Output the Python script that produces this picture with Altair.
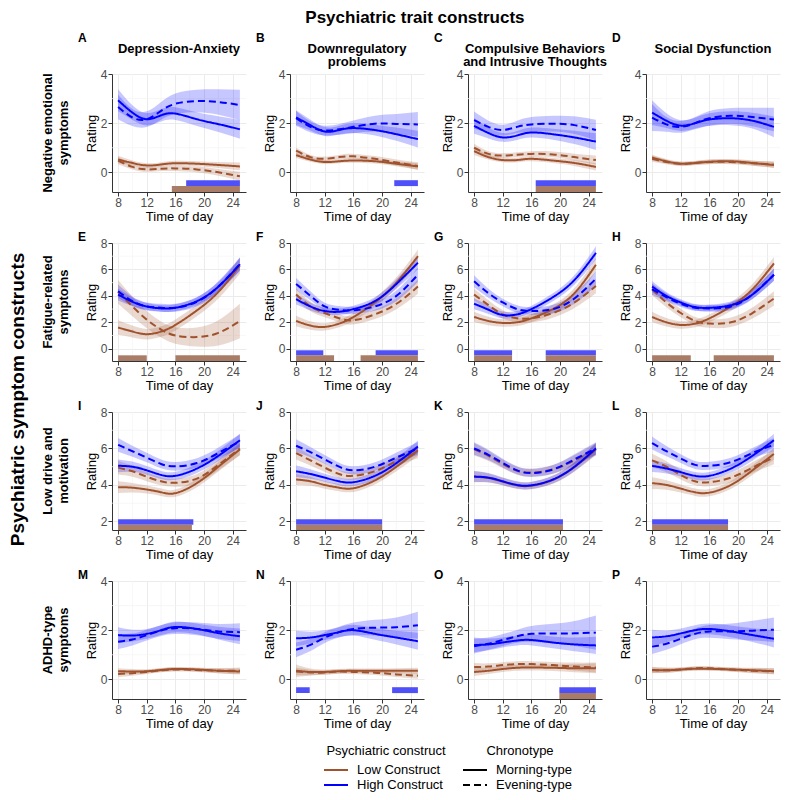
import altair as alt
import pandas as pd

# ---------------- data ----------------
HOURS = [8, 10, 12, 14, 16, 19, 22, 25]
X_TICKS = [8, 12, 16, 20, 24]
X_MINOR = [10, 14, 18, 22]

TRAITS = ["Depression-Anxiety", "Downregulatory\nproblems",
          "Compulsive Behaviors\nand Intrusive Thoughts", "Social Dysfunction"]
SYMPTOMS = ["Negative emotional\nsymptoms", "Fatigue-related\nsymptoms",
            "Low drive and\nmotivation", "ADHD-type\nsymptoms"]
LETTERS = list("ABCDEFGHIJKLMNOP")

CONSTRUCTS = ["Low Construct", "High Construct"]
CHRONOTYPES = ["Morning-type", "Evening-type"]
SERIES = {"LM": ("Low Construct", "Morning-type"), "LE": ("Low Construct", "Evening-type"),
          "HM": ("High Construct", "Morning-type"), "HE": ("High Construct", "Evening-type")}

# mean ratings at HOURS (L/H = low/high construct, M/E = morning/evening type)
A_MEAN = dict(LM=[0.52, 0.38, 0.28, 0.32, 0.37, 0.35, 0.30, 0.24],
              LE=[0.48, 0.22, 0.12, 0.15, 0.16, 0.12, 0.00, -0.16],
              HM=[2.93, 2.43, 2.16, 2.32, 2.39, 2.16, 1.96, 1.75],
              HE=[2.66, 2.23, 2.16, 2.50, 2.79, 2.90, 2.86, 2.74])
B_MEAN = dict(LM=[0.70, 0.52, 0.42, 0.45, 0.48, 0.45, 0.35, 0.24],
              LE=[0.88, 0.62, 0.55, 0.62, 0.65, 0.55, 0.40, 0.26],
              HM=[2.23, 1.92, 1.66, 1.72, 1.80, 1.72, 1.55, 1.35],
              HE=[2.20, 1.85, 1.70, 1.75, 1.85, 1.98, 1.97, 1.95])
C_MEAN = dict(LM=[0.86, 0.62, 0.50, 0.50, 0.55, 0.48, 0.38, 0.22],
              LE=[1.00, 0.75, 0.68, 0.72, 0.75, 0.73, 0.62, 0.50],
              HM=[1.89, 1.60, 1.42, 1.50, 1.62, 1.55, 1.42, 1.25],
              HE=[2.12, 1.85, 1.72, 1.85, 1.95, 1.98, 1.92, 1.72])
D_MEAN = dict(LM=[0.60, 0.45, 0.35, 0.38, 0.43, 0.45, 0.38, 0.30],
              LE=[0.55, 0.42, 0.35, 0.38, 0.42, 0.42, 0.37, 0.32],
              HM=[2.43, 2.10, 1.90, 2.00, 2.15, 2.20, 2.10, 1.85],
              HE=[2.23, 1.95, 1.85, 2.00, 2.20, 2.30, 2.25, 2.15])
E_MEAN = dict(LM=[1.60, 1.30, 1.10, 1.30, 1.80, 2.90, 4.30, 6.30],
              LE=[4.30, 3.20, 2.20, 1.45, 1.00, 0.88, 1.20, 2.10],
              HM=[4.10, 3.55, 3.20, 3.05, 3.10, 3.60, 4.70, 6.40],
              HE=[4.35, 3.60, 3.20, 3.10, 3.10, 3.55, 4.70, 6.40])
F_MEAN = dict(LM=[2.10, 1.75, 1.65, 1.90, 2.40, 3.50, 5.00, 7.00],
              LE=[4.10, 3.20, 2.70, 2.30, 2.15, 2.60, 3.40, 4.70],
              HM=[3.75, 3.20, 2.85, 2.80, 3.00, 3.60, 4.90, 6.50],
              HE=[4.90, 4.00, 3.20, 2.95, 2.90, 3.20, 4.00, 5.60])
G_MEAN = dict(LM=[2.40, 2.10, 1.95, 2.00, 2.30, 3.00, 4.20, 6.35],
              LE=[4.10, 3.30, 2.60, 2.30, 2.30, 2.70, 3.50, 4.75],
              HM=[3.40, 2.95, 2.55, 2.60, 3.00, 3.90, 5.20, 7.25],
              HE=[5.10, 4.20, 3.50, 3.00, 2.85, 3.00, 3.80, 5.30])
H_MEAN = dict(LM=[2.40, 2.00, 1.80, 1.90, 2.30, 3.20, 4.50, 6.45],
              LE=[4.50, 3.50, 2.70, 2.10, 1.90, 2.00, 2.70, 3.80],
              HM=[4.70, 4.00, 3.50, 3.15, 3.10, 3.30, 4.10, 5.60],
              HE=[4.50, 3.90, 3.40, 3.10, 3.05, 3.20, 4.10, 5.60])
I_MEAN = dict(LM=[3.88, 3.85, 3.75, 3.60, 3.55, 4.10, 5.00, 5.95],
              LE=[4.95, 4.75, 4.45, 4.20, 4.12, 4.35, 5.10, 6.00],
              HM=[5.05, 5.00, 4.80, 4.55, 4.50, 4.90, 5.60, 6.45],
              HE=[6.20, 5.85, 5.50, 5.15, 5.02, 5.20, 5.75, 6.40])
J_MEAN = dict(LM=[4.30, 4.20, 4.00, 3.85, 3.82, 4.25, 5.00, 5.90],
              LE=[5.75, 5.35, 4.95, 4.60, 4.50, 4.75, 5.30, 5.80],
              HM=[4.75, 4.60, 4.40, 4.20, 4.15, 4.50, 5.20, 6.10],
              HE=[6.15, 5.80, 5.40, 5.00, 4.80, 5.00, 5.50, 6.00])
K_MEAN = dict(LM=[4.45, 4.38, 4.18, 3.98, 3.96, 4.28, 4.98, 5.95],
              LE=[5.95, 5.60, 5.15, 4.78, 4.68, 4.85, 5.35, 5.95],
              HM=[4.46, 4.40, 4.20, 4.00, 3.98, 4.30, 5.00, 6.00],
              HE=[6.00, 5.65, 5.20, 4.80, 4.65, 4.85, 5.40, 6.00])
L_MEAN = dict(LM=[4.10, 4.00, 3.80, 3.60, 3.58, 4.00, 4.80, 5.70],
              LE=[5.35, 5.00, 4.55, 4.20, 4.15, 4.40, 4.95, 5.50],
              HM=[5.05, 4.90, 4.70, 4.50, 4.50, 4.90, 5.60, 6.45],
              HE=[6.30, 5.85, 5.45, 5.10, 5.05, 5.25, 5.75, 6.20])
M_MEAN = dict(LM=[0.33, 0.32, 0.33, 0.38, 0.42, 0.40, 0.35, 0.32],
              LE=[0.22, 0.25, 0.30, 0.37, 0.40, 0.38, 0.35, 0.35],
              HM=[1.80, 1.78, 1.85, 2.00, 2.13, 2.05, 1.88, 1.75],
              HE=[1.53, 1.62, 1.80, 1.98, 2.08, 2.05, 1.95, 1.92])
N_MEAN = dict(LM=[0.35, 0.30, 0.30, 0.33, 0.35, 0.35, 0.35, 0.35],
              LE=[0.32, 0.28, 0.28, 0.32, 0.30, 0.27, 0.20, 0.15],
              HM=[1.67, 1.70, 1.80, 1.92, 2.00, 1.85, 1.70, 1.55],
              HE=[1.20, 1.40, 1.70, 1.92, 2.05, 2.10, 2.12, 2.20])
O_MEAN = dict(LM=[0.30, 0.35, 0.42, 0.47, 0.48, 0.47, 0.45, 0.45],
              LE=[0.50, 0.52, 0.58, 0.62, 0.62, 0.58, 0.52, 0.48],
              HM=[1.40, 1.42, 1.50, 1.58, 1.60, 1.50, 1.42, 1.38],
              HE=[1.35, 1.45, 1.60, 1.75, 1.85, 1.86, 1.87, 1.90])
P_MEAN = dict(LM=[0.38, 0.37, 0.40, 0.43, 0.43, 0.40, 0.37, 0.33],
              LE=[0.37, 0.37, 0.40, 0.45, 0.45, 0.40, 0.35, 0.33],
              HM=[1.70, 1.75, 1.87, 2.00, 2.05, 1.95, 1.80, 1.65],
              HE=[1.33, 1.45, 1.65, 1.85, 1.95, 1.95, 1.98, 2.02])

# confidence-band half widths at HOURS
A_BAND = dict(LM=[0.15, 0.10, 0.09, 0.09, 0.10, 0.10, 0.12, 0.16],
              LE=[0.15, 0.10, 0.10, 0.10, 0.11, 0.12, 0.14, 0.18],
              HM=[0.45, 0.30, 0.25, 0.25, 0.26, 0.28, 0.32, 0.38],
              HE=[0.50, 0.35, 0.32, 0.36, 0.42, 0.46, 0.52, 0.62])
B_BAND = dict(LM=[0.12, 0.09, 0.08, 0.08, 0.09, 0.09, 0.10, 0.13],
              LE=[0.13, 0.09, 0.09, 0.09, 0.10, 0.11, 0.12, 0.15],
              HM=[0.30, 0.22, 0.18, 0.18, 0.20, 0.22, 0.27, 0.34],
              HE=[0.30, 0.22, 0.20, 0.22, 0.26, 0.32, 0.40, 0.50])
C_BAND = dict(LM=[0.15, 0.10, 0.09, 0.09, 0.10, 0.10, 0.12, 0.15],
              LE=[0.16, 0.11, 0.10, 0.10, 0.11, 0.12, 0.14, 0.18],
              HM=[0.32, 0.22, 0.18, 0.18, 0.20, 0.22, 0.27, 0.34],
              HE=[0.35, 0.25, 0.22, 0.25, 0.30, 0.32, 0.36, 0.42])
D_BAND = dict(LM=[0.12, 0.09, 0.08, 0.08, 0.09, 0.09, 0.10, 0.12],
              LE=[0.12, 0.09, 0.08, 0.08, 0.09, 0.09, 0.10, 0.13],
              HM=[0.50, 0.30, 0.22, 0.22, 0.25, 0.28, 0.32, 0.42],
              HE=[0.55, 0.30, 0.24, 0.25, 0.30, 0.32, 0.38, 0.48])
E_BAND = dict(LM=[0.55, 0.45, 0.40, 0.40, 0.42, 0.45, 0.50, 0.60],
              LE=[0.90, 0.75, 0.65, 0.60, 0.62, 0.72, 0.95, 1.30],
              HM=[0.45, 0.32, 0.26, 0.25, 0.26, 0.30, 0.36, 0.48],
              HE=[0.50, 0.36, 0.30, 0.30, 0.30, 0.34, 0.40, 0.52])
F_BAND = dict(LM=[0.40, 0.32, 0.28, 0.28, 0.30, 0.34, 0.40, 0.50],
              LE=[0.45, 0.36, 0.32, 0.30, 0.32, 0.36, 0.42, 0.55],
              HM=[0.40, 0.30, 0.26, 0.25, 0.26, 0.30, 0.36, 0.48],
              HE=[0.45, 0.34, 0.28, 0.28, 0.28, 0.32, 0.40, 0.55])
G_BAND = dict(LM=[0.40, 0.32, 0.28, 0.28, 0.30, 0.34, 0.40, 0.50],
              LE=[0.45, 0.36, 0.32, 0.30, 0.32, 0.36, 0.42, 0.55],
              HM=[0.42, 0.32, 0.26, 0.25, 0.26, 0.30, 0.36, 0.50],
              HE=[0.45, 0.34, 0.28, 0.28, 0.28, 0.32, 0.40, 0.55])
H_BAND = dict(LM=[0.40, 0.32, 0.28, 0.28, 0.30, 0.34, 0.40, 0.50],
              LE=[0.45, 0.36, 0.32, 0.30, 0.32, 0.36, 0.42, 0.55],
              HM=[0.42, 0.30, 0.25, 0.24, 0.25, 0.28, 0.34, 0.45],
              HE=[0.42, 0.30, 0.25, 0.24, 0.25, 0.28, 0.34, 0.45])
I_BAND = dict(LM=[0.32, 0.26, 0.22, 0.20, 0.20, 0.22, 0.26, 0.32],
              LE=[0.38, 0.30, 0.25, 0.22, 0.22, 0.25, 0.30, 0.36],
              HM=[0.35, 0.28, 0.24, 0.22, 0.22, 0.24, 0.28, 0.36],
              HE=[0.38, 0.30, 0.26, 0.24, 0.24, 0.26, 0.30, 0.38])
J_BAND = dict(LM=[0.30, 0.25, 0.21, 0.20, 0.20, 0.22, 0.25, 0.30],
              LE=[0.35, 0.28, 0.24, 0.22, 0.22, 0.24, 0.28, 0.34],
              HM=[0.32, 0.26, 0.22, 0.21, 0.21, 0.23, 0.27, 0.34],
              HE=[0.35, 0.28, 0.24, 0.22, 0.22, 0.24, 0.28, 0.35])
K_BAND = dict(LM=[0.30, 0.25, 0.21, 0.20, 0.20, 0.22, 0.25, 0.32],
              LE=[0.34, 0.28, 0.24, 0.22, 0.22, 0.24, 0.28, 0.34],
              HM=[0.30, 0.25, 0.21, 0.20, 0.20, 0.22, 0.25, 0.32],
              HE=[0.34, 0.28, 0.24, 0.22, 0.22, 0.24, 0.28, 0.34])
L_BAND = dict(LM=[0.32, 0.26, 0.22, 0.20, 0.20, 0.22, 0.26, 0.32],
              LE=[0.36, 0.30, 0.25, 0.22, 0.22, 0.25, 0.30, 0.36],
              HM=[0.34, 0.27, 0.23, 0.21, 0.21, 0.23, 0.27, 0.34],
              HE=[0.36, 0.28, 0.24, 0.22, 0.22, 0.24, 0.28, 0.36])
M_BAND = dict(LM=[0.12, 0.10, 0.08, 0.08, 0.08, 0.08, 0.10, 0.12],
              LE=[0.12, 0.10, 0.08, 0.08, 0.08, 0.08, 0.10, 0.13],
              HM=[0.32, 0.24, 0.20, 0.20, 0.22, 0.22, 0.26, 0.32],
              HE=[0.30, 0.24, 0.22, 0.22, 0.24, 0.26, 0.30, 0.36])
N_BAND = dict(LM=[0.25, 0.14, 0.10, 0.09, 0.09, 0.09, 0.10, 0.12],
              LE=[0.15, 0.11, 0.09, 0.09, 0.09, 0.09, 0.10, 0.13],
              HM=[0.32, 0.24, 0.20, 0.20, 0.22, 0.24, 0.28, 0.35],
              HE=[0.30, 0.25, 0.22, 0.22, 0.26, 0.32, 0.40, 0.55])
O_BAND = dict(LM=[0.16, 0.13, 0.12, 0.12, 0.12, 0.13, 0.16, 0.20],
              LE=[0.16, 0.13, 0.12, 0.12, 0.12, 0.13, 0.16, 0.20],
              HM=[0.30, 0.24, 0.20, 0.20, 0.22, 0.24, 0.28, 0.35],
              HE=[0.30, 0.25, 0.24, 0.26, 0.32, 0.40, 0.50, 0.70])
P_BAND = dict(LM=[0.12, 0.10, 0.08, 0.08, 0.08, 0.08, 0.10, 0.12],
              LE=[0.12, 0.10, 0.08, 0.08, 0.08, 0.08, 0.10, 0.12],
              HM=[0.32, 0.24, 0.20, 0.20, 0.22, 0.24, 0.28, 0.35],
              HE=[0.30, 0.25, 0.22, 0.22, 0.26, 0.32, 0.40, 0.50])

# significance intervals (construct, start hour, end hour)
A_SIG = [("High", 17.5, 25), ("Low", 15.5, 25)]
B_SIG = [("High", 21.7, 25)]
C_SIG = [("High", 16.6, 25), ("Low", 16.6, 25)]
D_SIG = []
E_SIG = [("Low", 8, 12), ("Low", 16, 25)]
F_SIG = [("High", 8, 11.8), ("High", 19.1, 25), ("Low", 8, 13.3), ("Low", 17.0, 25)]
G_SIG = [("High", 8, 13.3), ("High", 18, 25), ("Low", 8, 13.3), ("Low", 18, 25)]
H_SIG = [("Low", 8, 13.4), ("Low", 16.6, 25)]
I_SIG = [("High", 8, 18.5), ("Low", 8, 18.3)]
J_SIG = [("High", 8, 20.0), ("Low", 8, 20.0)]
K_SIG = [("High", 8, 20.4), ("Low", 8, 20.4)]
L_SIG = [("High", 8, 18.6), ("Low", 8, 18.6)]
M_SIG = []
N_SIG = [("High", 8, 9.9), ("High", 21.4, 25)]
O_SIG = [("High", 19.9, 25), ("Low", 19.9, 25)]
P_SIG = []

MEANS = dict(A=A_MEAN, B=B_MEAN, C=C_MEAN, D=D_MEAN, E=E_MEAN, F=F_MEAN, G=G_MEAN, H=H_MEAN,
             I=I_MEAN, J=J_MEAN, K=K_MEAN, L=L_MEAN, M=M_MEAN, N=N_MEAN, O=O_MEAN, P=P_MEAN)
BANDS = dict(A=A_BAND, B=B_BAND, C=C_BAND, D=D_BAND, E=E_BAND, F=F_BAND, G=G_BAND, H=H_BAND,
             I=I_BAND, J=J_BAND, K=K_BAND, L=L_BAND, M=M_BAND, N=N_BAND, O=O_BAND, P=P_BAND)
SIGS = dict(A=A_SIG, B=B_SIG, C=C_SIG, D=D_SIG, E=E_SIG, F=F_SIG, G=G_SIG, H=H_SIG,
            I=I_SIG, J=J_SIG, K=K_SIG, L=L_SIG, M=M_SIG, N=N_SIG, O=O_SIG, P=P_SIG)

ROW_Y_DOMAIN = [[-0.8, 4], [-0.93, 8], [1.53, 8], [-0.8, 4]]
ROW_Y_TICKS = [[0, 2, 4], [0, 2, 4, 6, 8], [2, 4, 6, 8], [0, 2, 4]]
ROW_Y_MINOR = [[1, 3], [1, 3, 5, 7], [3, 5, 7], [1, 3]]
ROW_BAR_Y = [{"High": (-0.56, -0.32), "Low": (-0.80, -0.56)},
             {"High": (-0.50, -0.12), "Low": (-0.93, -0.50)},
             {"High": (1.82, 2.12), "Low": (1.53, 1.82)},
             {"High": (-0.56, -0.32), "Low": (-0.80, -0.56)}]

# ---------------- styling ----------------
FONT = "Liberation Sans"
PW, PH = 134, 118
W0, HH = 30, 1
S_COL, S_ROW = 44, 51
LOW_COL, HIGH_COL = "#a0522d", "#0000ff"
LOW_BAR, HIGH_BAR = "#a97c67", "#5050f8"
GRID_MINOR = "#f4f4f4"

XSCALE = alt.Scale(domain=[7.15, 25.85], nice=False, zero=False)
XAXIS = alt.Axis(title="Time of day", values=X_TICKS, grid=True)

COLOR_LEGEND = alt.Legend(title="Psychiatric construct", orient="none", legendX=288, legendY=723,
                          direction="vertical", titleAnchor="middle", symbolType="M-2,0L2,0",
                          symbolSize=144, symbolStrokeWidth=2, labelOffset=14)
DASH_LEGEND = alt.Legend(title="Chronotype", orient="none", legendX=430, legendY=723,
                         direction="vertical", titleAnchor="middle", symbolType="M-2,0L2,0",
                         symbolSize=144, symbolStrokeWidth=2, symbolStrokeColor="black",
                         labelOffset=14)


def panel(key, row):
    recs = []
    for code, (cons, chrono) in SERIES.items():
        for h, m, w in zip(HOURS, MEANS[key][code], BANDS[key][code]):
            recs.append(dict(hour=h, value=m, lo=m - w, hi=m + w, construct=cons,
                             chronotype=chrono, series=code))
    df = pd.DataFrame(recs)
    ysc = alt.Scale(domain=ROW_Y_DOMAIN[row], nice=False, zero=False)
    yax = alt.Axis(title="Rating", values=ROW_Y_TICKS[row], grid=True)

    layers = [
        alt.Chart(pd.DataFrame({"v": X_MINOR})).mark_rule(color=GRID_MINOR, strokeWidth=0.7).encode(
            x=alt.X("v:Q", scale=XSCALE, axis=XAXIS)),
        alt.Chart(pd.DataFrame({"v": ROW_Y_MINOR[row]})).mark_rule(color=GRID_MINOR, strokeWidth=0.7).encode(
            y=alt.Y("v:Q", scale=ysc, axis=yax)),
    ]
    for cons, col in ((CONSTRUCTS[0], LOW_COL), (CONSTRUCTS[1], HIGH_COL)):
        layers.append(alt.Chart(df[df.construct == cons]).mark_area(
            color=col, opacity=0.22, interpolate="natural").encode(
            x=alt.X("hour:Q", scale=XSCALE, axis=XAXIS),
            y=alt.Y("lo:Q", scale=ysc, axis=yax), y2="hi:Q", detail="series:N"))
    layers.append(alt.Chart(df).mark_line(strokeWidth=2, interpolate="natural").encode(
        x=alt.X("hour:Q", scale=XSCALE, axis=XAXIS),
        y=alt.Y("value:Q", scale=ysc, axis=yax),
        color=alt.Color("construct:N", scale=alt.Scale(domain=CONSTRUCTS, range=[LOW_COL, HIGH_COL]),
                        legend=COLOR_LEGEND),
        strokeDash=alt.StrokeDash("chronotype:N",
                                  scale=alt.Scale(domain=CHRONOTYPES, range=[[1, 0], [7, 4]]),
                                  legend=DASH_LEGEND),
        detail="series:N"))
    for cons, col in (("High", HIGH_BAR), ("Low", LOW_BAR)):
        segs = [(s, e) for c, s, e in SIGS[key] if c == cons]
        if segs:
            y0, y1 = ROW_BAR_Y[row][cons]
            bdf = pd.DataFrame({"start": [s for s, _ in segs], "end": [e for _, e in segs],
                                "y0": [y0] * len(segs), "y1": [y1] * len(segs)})
            layers.append(alt.Chart(bdf).mark_rect(color=col).encode(
                x=alt.X("start:Q", scale=XSCALE, axis=XAXIS), x2="end:Q",
                y=alt.Y("y0:Q", scale=ysc, axis=yax), y2="y1:Q"))
    ch = alt.layer(*layers).properties(width=PW, height=PH)
    if row > 0:
        ch = ch.properties(title=alt.TitleParams(key, anchor="start", frame="group", dx=-34,
                                                 offset=-7, fontSize=12, fontWeight="bold"))
    return ch


def text_cell(txt, w, h, **kw):
    return alt.Chart(pd.DataFrame({"t": [txt]})).mark_text(
        font=FONT, color="black", lineBreak="\n", **kw).encode(text="t:N").properties(width=w, height=h)


cells = [text_cell("", W0, HH)]
for i in range(4):
    cells.append(text_cell(TRAITS[i], PW, HH, fontWeight="bold", fontSize=13, lineHeight=13.5,
                           dy=S_ROW + HH / 2 - 25.5).properties(
        title=alt.TitleParams(LETTERS[i], anchor="start", frame="group", dx=-34,
                              offset=-(S_ROW + HH) + 29, fontSize=12, fontWeight="bold")))
for r in range(4):
    cells.append(text_cell(SYMPTOMS[r], W0, PH, angle=270, fontWeight="bold", fontSize=13,
                           lineHeight=16, dy=-5.5))
    for c in range(4):
        cells.append(panel(LETTERS[4 * r + c], r))

body = alt.concat(*cells, columns=5, spacing={"row": S_ROW, "column": S_COL}, bounds="flush",
                  title=alt.TitleParams("Psychiatric symptom constructs", orient="left", anchor="middle",
                                        fontSize=19, fontWeight="bold", offset=10, dx=-26)
                  ).resolve_scale(x="independent", y="independent")

chart = alt.vconcat(body,
                    title=alt.TitleParams("Psychiatric trait constructs", anchor="middle", fontSize=17,
                                          fontWeight="bold", offset=-10, dx=20),
                    padding=0
                    ).configure(font=FONT).configure_view(stroke="transparent").configure_axis(
    labelFont=FONT, labelFontSize=12, labelColor="#4d4d4d", titleFont=FONT, titleFontSize=13,
    titleFontWeight="normal", titleColor="black", domainColor="#333333", tickColor="#333333",
    tickSize=4, gridColor="#ebebeb", labelPadding=1, titlePadding=2
).configure_title(font=FONT, color="black").configure_legend(
    titleFont=FONT, titleFontSize=13, titleFontWeight="normal", titleColor="black",
    labelFont=FONT, labelFontSize=13, labelColor="black", rowPadding=1, titlePadding=5
)

chart.save("out.html", embed_options={"renderer": "svg", "actions": False})
